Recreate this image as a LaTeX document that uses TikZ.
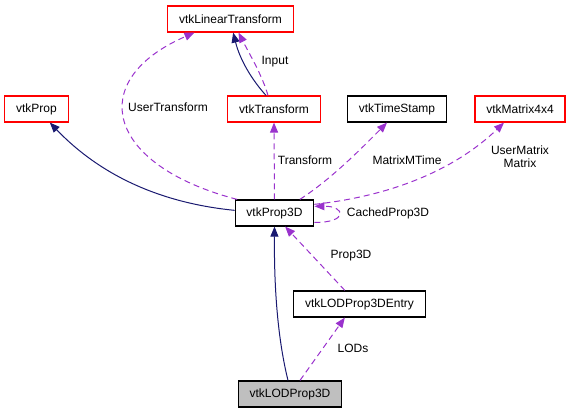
\documentclass[tikz,border=0pt]{standalone}
\usepackage{fontspec}
\setmainfont{Liberation Sans}
\usetikzlibrary{arrows.meta}
\definecolor{inhblue}{HTML}{191970}
\definecolor{usepurple}{HTML}{9A32CD}
\tikzset{
  cls/.style={draw=black, rectangle, fill=white, line width=0.9pt, font=\fontsize{9}{10}\selectfont, inner xsep=8.5pt, inner ysep=0pt, minimum height=19.5pt},
  extcls/.style={draw=red},
  focuscls/.style={fill=black!25},
  inhedge/.style={-{Triangle[length=7.5pt,width=6pt]}, inhblue, line width=0.75pt},
  usedge/.style={-{Triangle[length=7.5pt,width=6pt]}, usepurple, line width=0.75pt, dash pattern=on 4.5pt off 3pt},
  elabel/.style={font=\fontsize{9}{10}\selectfont, inner sep=1pt, align=center}
}

\begin{document}
\begin{tikzpicture}[x=0.75pt, y=-0.75pt]
\useasboundingbox (0,0) rectangle (572,413);
\node[cls, extcls] (lintf) at (230.5,19) {vtkLinearTransform};
\node[cls, extcls] (prop) at (36.5,109) {vtkProp};
\node[cls, extcls] (tf) at (274,109) {vtkTransform};
\node[cls] (stamp) at (397,109) {vtkTimeStamp};
\node[cls, extcls] (mat) at (520,109) {vtkMatrix4x4};
\node[cls] (prop3d) at (274.5,213) {vtkProp3D};
\node[cls] (entry) at (359.5,304) {vtkLODProp3DEntry};
\node[cls, focuscls] (lod) at (290,394) {vtkLODProp3D};

\draw[inhedge] ([yshift=2pt]prop3d.west) .. controls (160,203) and (100,175) .. ([xshift=10pt]prop.south);
\draw[inhedge] ([xshift=-6pt]tf.north) .. controls (252,80) and (240,60) .. ([xshift=2pt]lintf.south);
\draw[inhedge] ([xshift=-1.5pt]lod.north) .. controls (278,340) and (274,290) .. (prop3d.south);

\draw[usedge] ([xshift=-4.5pt]tf.north) .. controls (262,75) and (250,55) .. ([xshift=6pt]lintf.south);
\draw[usedge] ([xshift=-28pt]prop3d.north) .. controls (105,165) and (85,80) .. ([xshift=-27pt]lintf.south);
\draw[usedge] (prop3d.north) -- (tf.south);
\draw[usedge] ([xshift=19pt]prop3d.north) .. controls (330,180) and (360,150) .. ([xshift=-7.5pt]stamp.south);
\draw[usedge] ([yshift=6.5pt]prop3d.east) .. controls (400,195) and (460,165) .. ([xshift=-12pt]mat.south);
\draw[usedge] ([yshift=-7pt]prop3d.east) .. controls (348,223) and (346,206) .. ([yshift=5pt]prop3d.east);
\draw[usedge] ([xshift=-11pt]entry.north) -- ([xshift=8pt]prop3d.south);
\draw[usedge] ([xshift=7.5pt]lod.north) -- ([xshift=-11pt]entry.south);

\node[elabel] (lblinput) at (275,62) {Input};
\node[elabel] (lblusertf) at (168,107) {UserTransform};
\node[elabel] (lbltf) at (305,160) {Transform};
\node[elabel] (lblmtime) at (407,160) {MatrixMTime};
\node[elabel] (lblumat) at (520,157) {UserMatrix\\Matrix};
\node[elabel] (lblcached) at (388,213) {CachedProp3D};
\node[elabel] (lblprop3d) at (351,256) {Prop3D};
\node[elabel] (lbllods) at (353,348) {LODs};
\end{tikzpicture}
\end{document}
